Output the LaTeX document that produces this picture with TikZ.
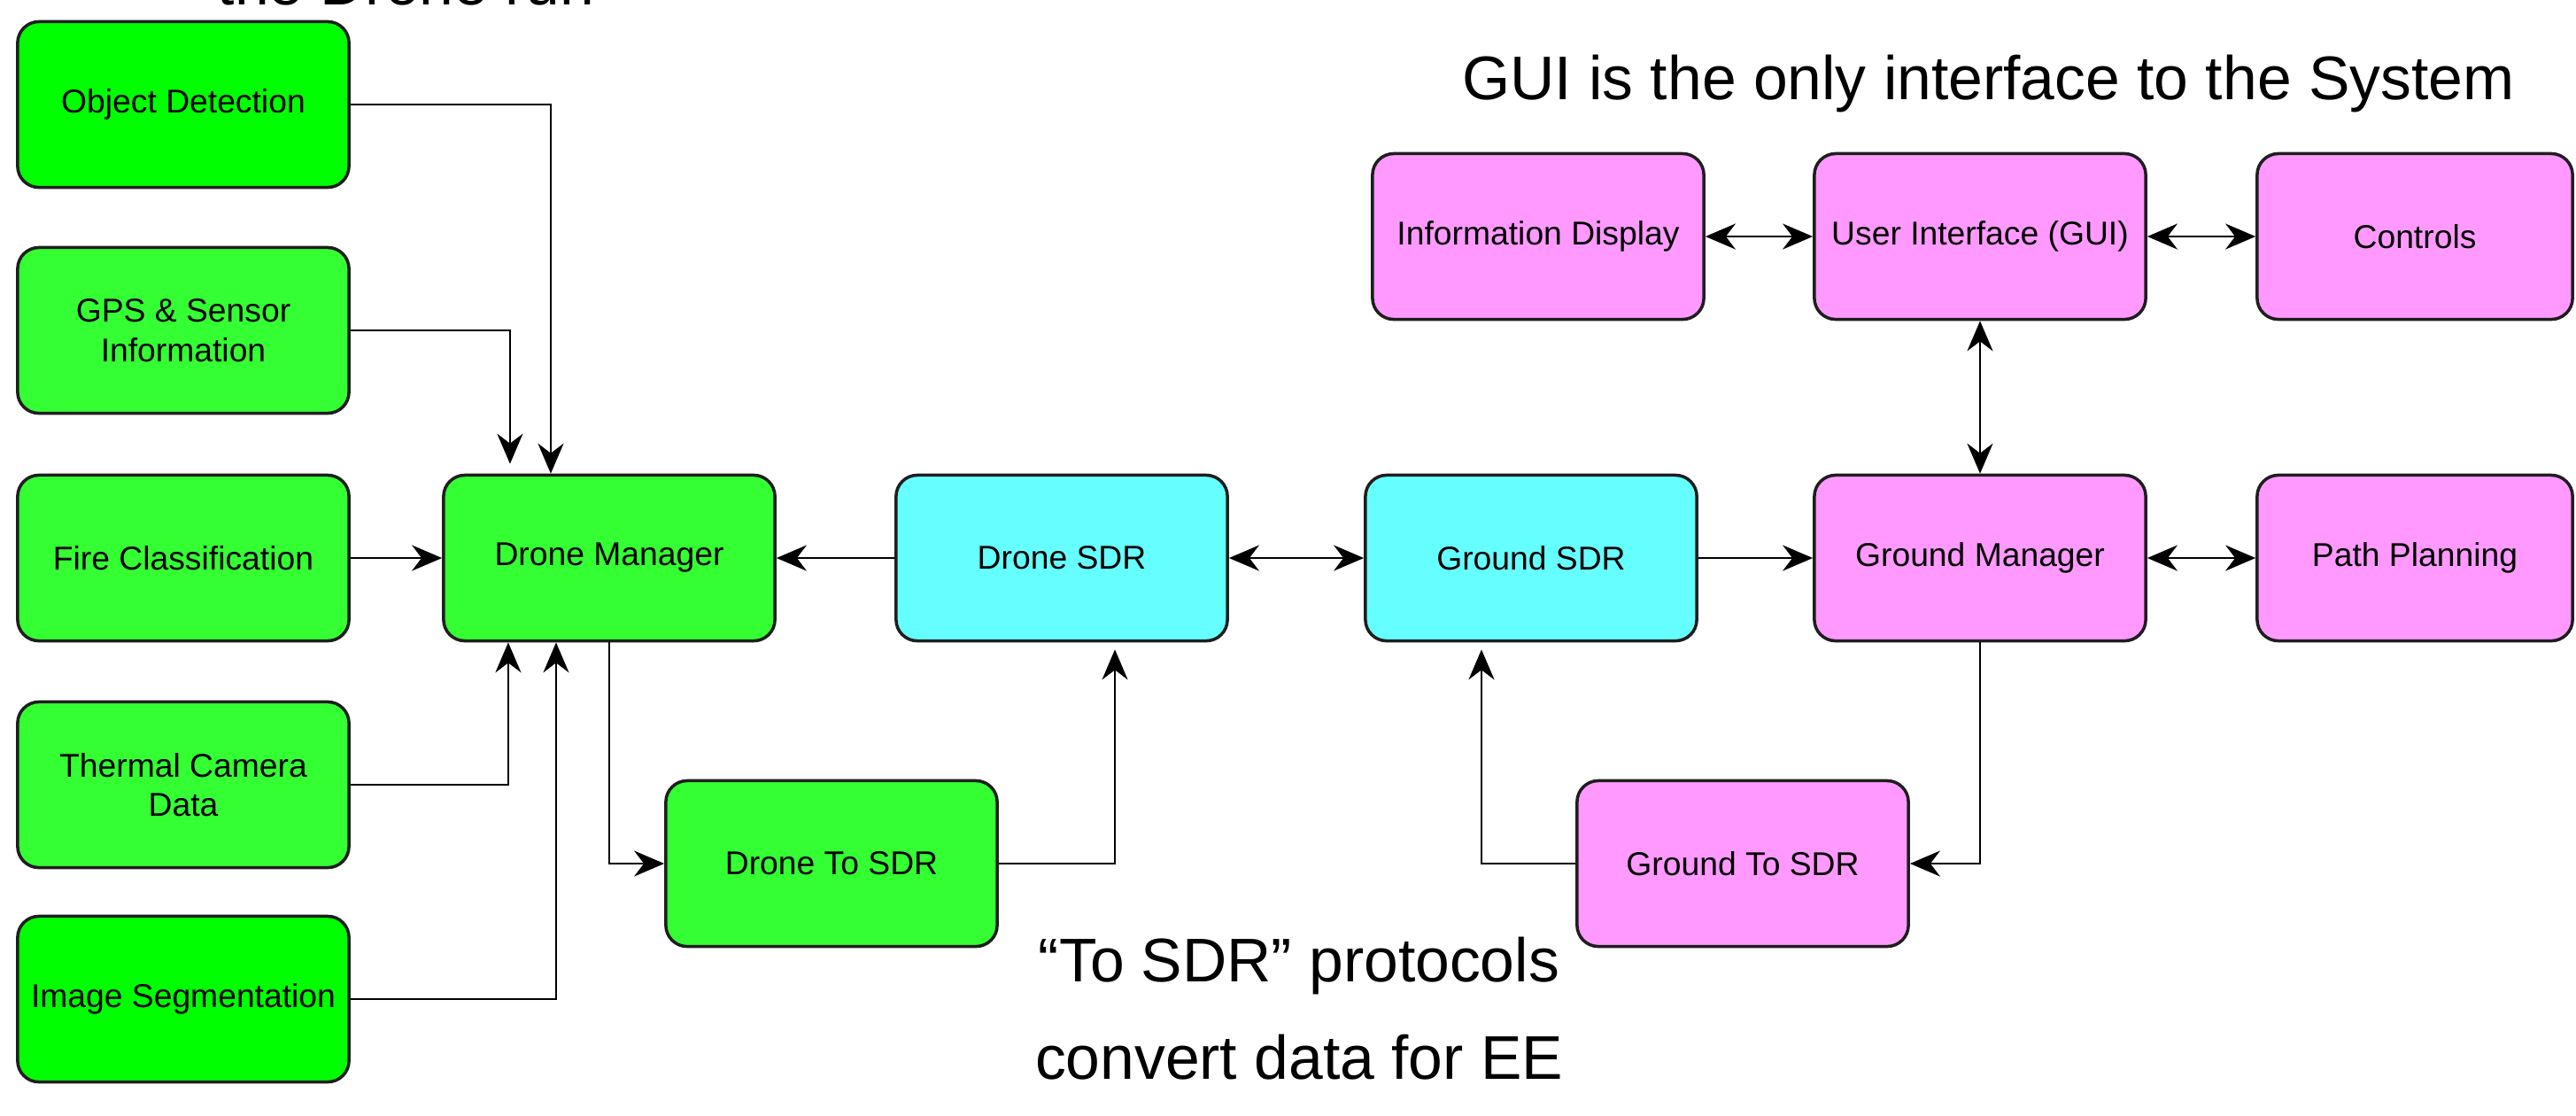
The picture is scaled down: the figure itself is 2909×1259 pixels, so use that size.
\documentclass[tikz,border=0pt]{standalone}
\usepackage{fontspec}
\setmainfont{Liberation Sans}
\usetikzlibrary{arrows.meta}
\definecolor{gA}{HTML}{00FF00}
\definecolor{gB}{HTML}{33FF33}
\definecolor{cy}{HTML}{66FFFF}
\definecolor{pk}{HTML}{FF99FF}
\definecolor{edgec}{HTML}{1E1E1E}
\begin{document}
\begin{tikzpicture}[x=0.01cm,y=-0.01cm,
  box/.style={draw=edgec,line width=1pt,rounded corners=0.24cm,minimum width=3.74cm,minimum height=1.87cm,inner sep=0pt,font=\fontsize{10.6}{12.6}\selectfont,text=black,align=center},
  tip/.tip={Stealth[length=0.34cm,width=0.29cm,inset=0.11cm]},
  conn/.style={line width=0.7pt,-tip},
  bi/.style={line width=0.7pt,tip-tip},
  note/.style={font=\fontsize{19.8}{20}\selectfont,inner sep=0pt}
]
\useasboundingbox (0,0) rectangle (2909,1259);
\fill[white] (0,0) rectangle (2909,1259);

% left column
\node[box,fill=gA] (OD)  at (207,118)  {Object Detection};
\node[box,fill=gB] (GPS) at (207,373)  {GPS \& Sensor\\Information};
\node[box,fill=gB] (FC)  at (207,630)  {Fire Classification};
\node[box,fill=gB] (TC)  at (207,886)  {Thermal Camera\\Data};
\node[box,fill=gA] (IS)  at (207,1128) {Image Segmentation};

% main row
\node[box,fill=gB] (DM)   at (688,630)  {Drone Manager};
\node[box,fill=cy] (DSDR) at (1199,630) {Drone SDR};
\node[box,fill=cy] (GSDR) at (1729,630) {Ground SDR};
\node[box,fill=pk] (GM)   at (2236,630) {Ground Manager};
\node[box,fill=pk,minimum width=3.56cm] (PP) at (2727,630) {Path Planning};

% lower row
\node[box,fill=gB] (DTS) at (939,975)  {Drone To SDR};
\node[box,fill=pk] (GTS) at (1968,975) {Ground To SDR};

% top row
\node[box,fill=pk] (ID) at (1737,267) {Information Display};
\node[box,fill=pk] (UI) at (2236,267) {User Interface (GUI)};
\node[box,fill=pk,minimum width=3.56cm] (CT) at (2727,267) {Controls};

% connectors into Drone Manager
\draw[conn] (OD.east) -| ([xshift=-0.66cm]DM.north);
\draw[conn] (GPS.east) -| ([xshift=-1.12cm,yshift=0.11cm]DM.north);
\draw[conn] (FC.east) -- (DM.west);
\draw[conn] (TC.east) -| ([xshift=-1.14cm]DM.south);
\draw[conn] (IS.east) -| ([xshift=-0.60cm]DM.south);

\draw[conn] (DM.south) |- (DTS.west);
\draw[conn] (DTS.east) -| ([xshift=0.60cm,yshift=-0.08cm]DSDR.south);
\draw[conn] (DSDR.west) -- (DM.east);
\draw[bi] (DSDR.east) -- (GSDR.west);
\draw[conn] (GSDR.east) -- (GM.west);
\draw[bi] (GM.east) -- (PP.west);
\draw[conn] (GM.south) |- (GTS.east);
\draw[conn] (GTS.west) -| ([xshift=-0.56cm,yshift=-0.08cm]GSDR.south);
\draw[bi] (UI.south) -- (GM.north);
\draw[bi] (ID.east) -- (UI.west);
\draw[bi] (UI.east) -- (CT.west);

% annotations
\node[note,anchor=base west] (top) at (245,5) {the Drone run};
\node[note,anchor=base east] (gui) at (2840,112) {GUI is the only interface to the System};
\node[note,anchor=base] (sdr1) at (1467,1108) {“To SDR” protocols};
\node[note,anchor=base] (sdr2) at (1467,1218) {convert data for EE};
\end{tikzpicture}
\end{document}
